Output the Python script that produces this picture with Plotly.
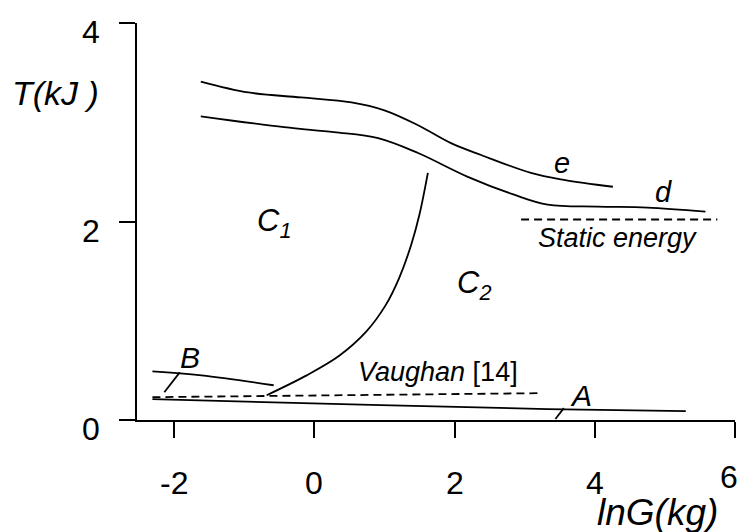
import plotly.graph_objects as go

# Curve e (upper branch)
e_x = [-1.62, -0.94, -0.19, 0.53, 1.00, 1.48, 1.95, 2.38, 3.09, 3.56, 4.26]
e_y = [3.41, 3.30, 3.25, 3.20, 3.12, 2.97, 2.79, 2.67, 2.49, 2.42, 2.35]

# Curve d (lower branch)
d_x = [-1.62, -0.43, 0.28, 0.91, 1.48, 2.19, 2.85, 3.33, 4.04, 4.75, 5.58]
d_y = [3.06, 2.95, 2.90, 2.84, 2.69, 2.45, 2.27, 2.17, 2.15, 2.14, 2.10]

# Static energy level
static_x = [2.95, 5.75]
static_y = [2.02, 2.02]

# Boundary between regions C1 and C2
bound_x = [-0.68, -0.11, 0.36, 0.74, 1.02, 1.21, 1.38, 1.50, 1.62]
bound_y = [0.25, 0.45, 0.65, 0.89, 1.16, 1.43, 1.76, 2.07, 2.49]

# Curve B
b_x = [-2.31, -1.61, -0.58]
b_y = [0.49, 0.45, 0.35]

# Vaughan [14] reference
vau_x = [-2.31, 3.19]
vau_y = [0.23, 0.27]

# Curve A
a_x = [-2.31, 0.95, 3.33, 5.30]
a_y = [0.21, 0.15, 0.11, 0.09]

# Label leader strokes
b_lead_x = [-1.92, -2.14]
b_lead_y = [0.48, 0.28]
a_lead_x = [3.44, 3.56]
a_lead_y = [0.01, 0.12]

x_ticks = [-2, 0, 2, 4, 6]
y_ticks = [0, 2, 4]

FONT = "Liberation Sans, Arial, sans-serif"
LW = 1.8

fig = go.Figure()

def add_line(x, y, dash="solid", shape="spline"):
    fig.add_trace(go.Scatter(
        x=x, y=y, mode="lines",
        line=dict(color="black", width=LW, dash=dash, shape=shape, smoothing=1.0),
        hoverinfo="skip", showlegend=False,
    ))

add_line(e_x, e_y)
add_line(d_x, d_y)
add_line(static_x, static_y, dash="8px,5px", shape="linear")
add_line(bound_x, bound_y)
add_line(b_x, b_y)
add_line(vau_x, vau_y, dash="8px,5px", shape="linear")
add_line(a_x, a_y)
add_line(b_lead_x, b_lead_y, shape="linear")
add_line(a_lead_x, a_lead_y, shape="linear")

labels = [
    ("<i>e</i>", 3.54, 2.59, 29),
    ("<i>d</i>", 4.98, 2.30, 29),
    ("<i>Static energy</i>", 4.33, 1.83, 27),
    ("<i>C<sub>1</sub></i>", -0.58, 1.98, 31),
    ("<i>C<sub>2</sub></i>", 2.28, 1.36, 31),
    ("<i>B</i>", -1.78, 0.63, 30),
    ("<i>A</i>", 3.80, 0.25, 30),
    ("<i>Vaughan</i> [14]", 1.77, 0.48, 27),
]
for text, x, y, size in labels:
    fig.add_annotation(x=x, y=y, text=text, showarrow=False,
                       font=dict(family=FONT, size=size, color="black"),
                       xanchor="center", yanchor="middle")

# Y tick labels sit slightly below their tick marks
for v in y_ticks:
    fig.add_annotation(xref="paper", yref="y", x=-0.058, y=v, yshift=-9,
                       text=str(v), showarrow=False,
                       font=dict(family=FONT, size=32, color="black"),
                       xanchor="right", yanchor="middle")

# X tick labels well below the axis; the last one is tucked against the edge
for v in x_ticks[:-1]:
    fig.add_annotation(xref="x", yref="paper", x=v, y=0, yshift=-63,
                       text=str(v), showarrow=False,
                       font=dict(family=FONT, size=32, color="black"),
                       xanchor="center", yanchor="middle")
fig.add_annotation(xref="paper", yref="paper", x=1.0, y=0, xshift=5, yshift=-57,
                   text=str(x_ticks[-1]), showarrow=False,
                   font=dict(family=FONT, size=32, color="black"),
                   xanchor="right", yanchor="middle")

# Axis titles
fig.add_annotation(xref="paper", yref="paper", x=-0.137, y=0.824,
                   text="<i>T(kJ )</i>", showarrow=False,
                   font=dict(family=FONT, size=34, color="black"),
                   xanchor="center", yanchor="middle")
fig.add_annotation(xref="paper", yref="paper", x=0.871, y=-0.232,
                   text="<i>lnG(kg)</i>", showarrow=False,
                   font=dict(family=FONT, size=37, color="black"),
                   xanchor="center", yanchor="middle")

fig.update_layout(
    width=741, height=532,
    margin=dict(l=137, r=6, t=23, b=112),
    paper_bgcolor="white", plot_bgcolor="white",
    font=dict(family=FONT, color="black"),
    xaxis=dict(range=[-2.53, 6.002], tickvals=x_ticks, showticklabels=False,
               showgrid=False, zeroline=False, showline=True, linecolor="black",
               linewidth=LW, ticks="outside", ticklen=16, tickwidth=LW,
               tickcolor="black", automargin=False),
    yaxis=dict(range=[0, 4], tickvals=y_ticks, showticklabels=False,
               showgrid=False, zeroline=False, showline=True, linecolor="black",
               linewidth=LW, ticks="outside", ticklen=16, tickwidth=LW,
               tickcolor="black", automargin=False),
)

fig.write_html("out.html")
